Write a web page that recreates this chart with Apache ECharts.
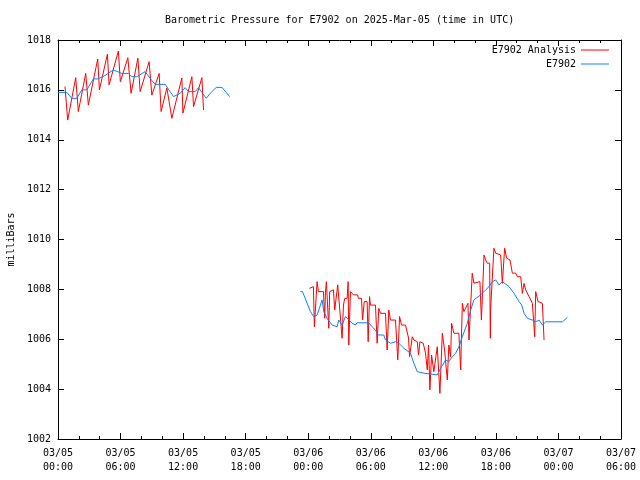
<!DOCTYPE html>
<html>
<head>
<meta charset="utf-8">
<script src="https://cdn.jsdelivr.net/npm/echarts@6/dist/echarts.min.js"></script>
<style>
html,body{margin:0;padding:0;background:#fff;}
#chart{width:640px;height:480px;}
</style>
</head>
<body>
<div id="chart"></div>
<script>
// Time in hours since 2025-03-05 00:00 UTC
const xTickLabels = ['03/05\n00:00','03/05\n06:00','03/05\n12:00','03/05\n18:00','03/06\n00:00','03/06\n06:00','03/06\n12:00','03/06\n18:00','03/07\n00:00','03/07\n06:00'];

// E7902 Analysis (red), first segment
const analysisT1 = [0.67,0.93,1.70,1.95,2.66,2.91,3.81,3.97,4.74,4.90,5.79,5.98,6.70,7.01,7.66,7.88,8.74,9.00,9.70,9.89,10.44,10.92,11.88,11.98,12.84,13.00,13.80,13.96];
const analysisV1 = [1016.13,1014.79,1016.49,1015.13,1016.66,1015.39,1017.24,1016.00,1017.43,1016.20,1017.56,1016.33,1017.29,1015.86,1017.27,1015.93,1017.13,1015.79,1016.66,1015.13,1016.08,1014.86,1016.48,1015.07,1016.53,1015.33,1016.49,1015.19];

// E7902 Analysis (red), second segment
const analysisT2 = [24.11,24.30,24.50,24.59,24.85,24.98,25.17,25.46,25.58,25.65,25.74,25.97,26.06,26.42,26.54,26.83,27.25,27.38,27.50,27.73,27.83,27.89,28.05,28.34,28.73,28.82,29.11,29.21,29.37,29.65,29.75,29.88,29.97,30.45,30.61,30.77,30.93,31.41,31.57,31.73,31.89,32.37,32.54,32.59,32.76,32.95,33.33,33.62,33.72,33.98,34.13,34.46,34.58,34.71,35.03,35.25,35.42,35.54,35.67,35.83,36.05,36.38,36.63,36.86,37.08,37.34,37.49,37.66,37.75,37.97,38.45,38.62,38.78,38.93,39.10,39.32,39.42,39.73,39.89,40.06,40.47,40.61,40.73,40.86,41.02,41.18,41.40,41.47,41.49,41.66,41.81,41.98,42.14,42.46,42.62,42.84,43.03,43.35,43.58,43.90,44.06,44.38,44.54,44.70,44.86,45.18,45.50,45.72,45.82,46.04,46.46,46.62];
const analysisV2 = [1008.04,1008.11,1008.11,1006.50,1008.31,1007.91,1007.98,1007.91,1006.84,1007.86,1008.31,1006.44,1007.91,1007.98,1007.17,1008.18,1006.04,1007.37,1007.64,1007.64,1008.31,1005.77,1007.91,1007.78,1007.78,1007.64,1007.64,1006.77,1007.51,1007.51,1005.90,1007.71,1007.37,1007.37,1005.84,1007.24,1007.04,1007.04,1005.57,1007.17,1006.77,1006.77,1006.70,1005.17,1006.91,1006.57,1006.57,1006.05,1005.30,1006.10,1005.97,1005.90,1005.37,1005.90,1005.84,1005.45,1004.77,1005.77,1003.97,1005.37,1004.70,1005.70,1003.83,1006.24,1005.57,1004.37,1005.77,1005.30,1006.64,1006.24,1006.24,1004.77,1007.44,1007.11,1007.17,1007.44,1005.97,1008.65,1008.25,1008.31,1008.31,1006.77,1007.98,1009.38,1009.18,1009.05,1009.05,1006.04,1007.17,1007.17,1009.65,1009.45,1009.38,1009.38,1008.24,1009.65,1009.25,1009.18,1008.65,1008.65,1008.51,1008.51,1007.84,1008.24,1007.98,1007.71,1007.44,1006.10,1007.91,1007.51,1007.44,1005.97];

// E7902 observations (blue), first segment
const obsT1 = [0,0.84,1.32,1.80,2.28,2.76,3.39,3.81,4.40,5.31,6.12,6.75,7.08,7.56,8.36,8.84,9.32,10.28,11.08,11.72,12.20,12.52,13.16,13.48,14.22,14.60,15.18,15.73,16.46];
const obsV1 = [1015.90,1015.90,1015.66,1015.66,1016.00,1016.00,1016.44,1016.44,1016.55,1016.80,1016.66,1016.66,1016.53,1016.53,1016.73,1016.46,1016.22,1016.22,1015.73,1015.86,1016.09,1015.93,1015.93,1016.09,1015.66,1015.86,1016.10,1016.10,1015.73];

// E7902 observations (blue), second segment
const obsT2 = [23.25,23.45,24.21,24.52,24.85,25.07,25.33,25.49,25.81,26.29,26.77,26.93,27.25,27.57,28.21,28.53,28.69,29.81,30.13,30.45,30.71,31.25,31.41,31.89,32.37,32.69,33.17,33.81,34.13,34.46,35.09,35.25,36.38,36.70,37.18,37.49,37.82,38.14,38.45,38.78,39.26,39.58,39.89,40.54,41.02,41.34,41.66,41.98,42.30,42.62,43.26,43.74,44.22,44.48,44.70,45.02,45.50,45.82,46.14,46.46,46.78,48.39,48.86];
const obsV2 = [1007.91,1007.91,1007.11,1006.91,1006.97,1007.24,1007.58,1007.11,1006.84,1006.57,1006.50,1006.77,1006.57,1006.91,1006.64,1006.57,1006.66,1006.66,1006.50,1006.37,1006.17,1006.17,1005.97,1005.84,1005.90,1005.84,1005.64,1005.44,1005.04,1004.70,1004.64,1004.57,1004.57,1004.84,1005.17,1005.10,1005.30,1005.44,1005.70,1006.10,1006.64,1007.17,1007.58,1007.78,1007.98,1008.11,1008.31,1008.38,1008.18,1008.31,1008.11,1007.84,1007.51,1007.37,1007.04,1006.84,1006.77,1006.70,1006.77,1006.57,1006.70,1006.70,1006.88];

const zip = (t, v) => t.map((x, i) => [x, v[i]]);
const join = (a, b) => a.concat([[ (a[a.length-1][0] + b[0][0]) / 2, '-' ]], b);

const analysisData = join(zip(analysisT1, analysisV1), zip(analysisT2, analysisV2));
const obsData = join(zip(obsT1, obsV1), zip(obsT2, obsV2));

const FONT = 'DejaVu Sans Mono';
const black = '#000';
const RED = '#ff0000';
const BLUE = '#0a80ff';

const chart = echarts.init(document.getElementById('chart'), null, {renderer: 'canvas'});

const xBase = {
  type: 'value', min: 0, max: 54, interval: 6,
  axisLine: {show: true, onZero: false, lineStyle: {color: black, width: 1}},
  axisTick: {show: true, inside: true, length: 6, lineStyle: {color: black}},
  minorTick: {show: true, splitNumber: 3, length: 3, lineStyle: {color: black}},
  splitLine: {show: false}
};
const yBase = {
  type: 'value', min: 1002, max: 1018, interval: 2,
  axisLine: {show: true, onZero: false, lineStyle: {color: black, width: 1}},
  axisTick: {show: true, inside: true, length: 6, lineStyle: {color: black}},
  splitLine: {show: false}
};
const legendBase = {
  right: 31, align: 'right', itemWidth: 28, itemHeight: 1, icon: 'rect', padding: 0,
  textStyle: {fontFamily: FONT, fontSize: 10, color: black}, selectedMode: false
};

chart.setOption({
  animation: false,
  backgroundColor: '#fff',
  title: {
    text: 'Barometric Pressure for E7902 on 2025-Mar-05 (time in UTC)',
    left: 165, top: 15, padding: 0,
    textStyle: {fontFamily: FONT, fontSize: 10, fontWeight: 'normal', color: black}
  },
  legend: [
    Object.assign({}, legendBase, {data: ['E7902 Analysis'], top: 45}),
    Object.assign({}, legendBase, {data: ['E7902'], top: 59})
  ],
  grid: {left: 58, right: 19, top: 40, bottom: 41, containLabel: false, outerBoundsMode: 'none'},
  xAxis: [
    Object.assign({}, xBase, {position: 'bottom',
      axisLabel: {show: true, margin: 7, lineHeight: 14, fontFamily: FONT, fontSize: 10, color: black,
        formatter: v => xTickLabels[Math.round(v / 6)]}}),
    Object.assign({}, xBase, {position: 'top', axisLabel: {show: false}})
  ],
  yAxis: [
    Object.assign({}, yBase, {position: 'left',
      name: 'milliBars', nameLocation: 'middle', nameRotate: 90, nameGap: 42,
      nameTextStyle: {fontFamily: FONT, fontSize: 10, color: black},
      axisLabel: {show: true, margin: 7, fontFamily: FONT, fontSize: 10, color: black,
        formatter: v => String(v)}}),
    Object.assign({}, yBase, {position: 'right', axisLabel: {show: false}})
  ],
  series: [
    {name: 'E7902 Analysis', type: 'line', data: analysisData, xAxisIndex: 0, yAxisIndex: 0,
     showSymbol: false, symbol: 'none', connectNulls: false,
     lineStyle: {color: RED, width: 1}, itemStyle: {color: RED}},
    {name: 'E7902', type: 'line', data: obsData, xAxisIndex: 0, yAxisIndex: 0,
     showSymbol: false, symbol: 'none', connectNulls: false,
     lineStyle: {color: BLUE, width: 1}, itemStyle: {color: BLUE}}
  ]
});
</script>
</body>
</html>
